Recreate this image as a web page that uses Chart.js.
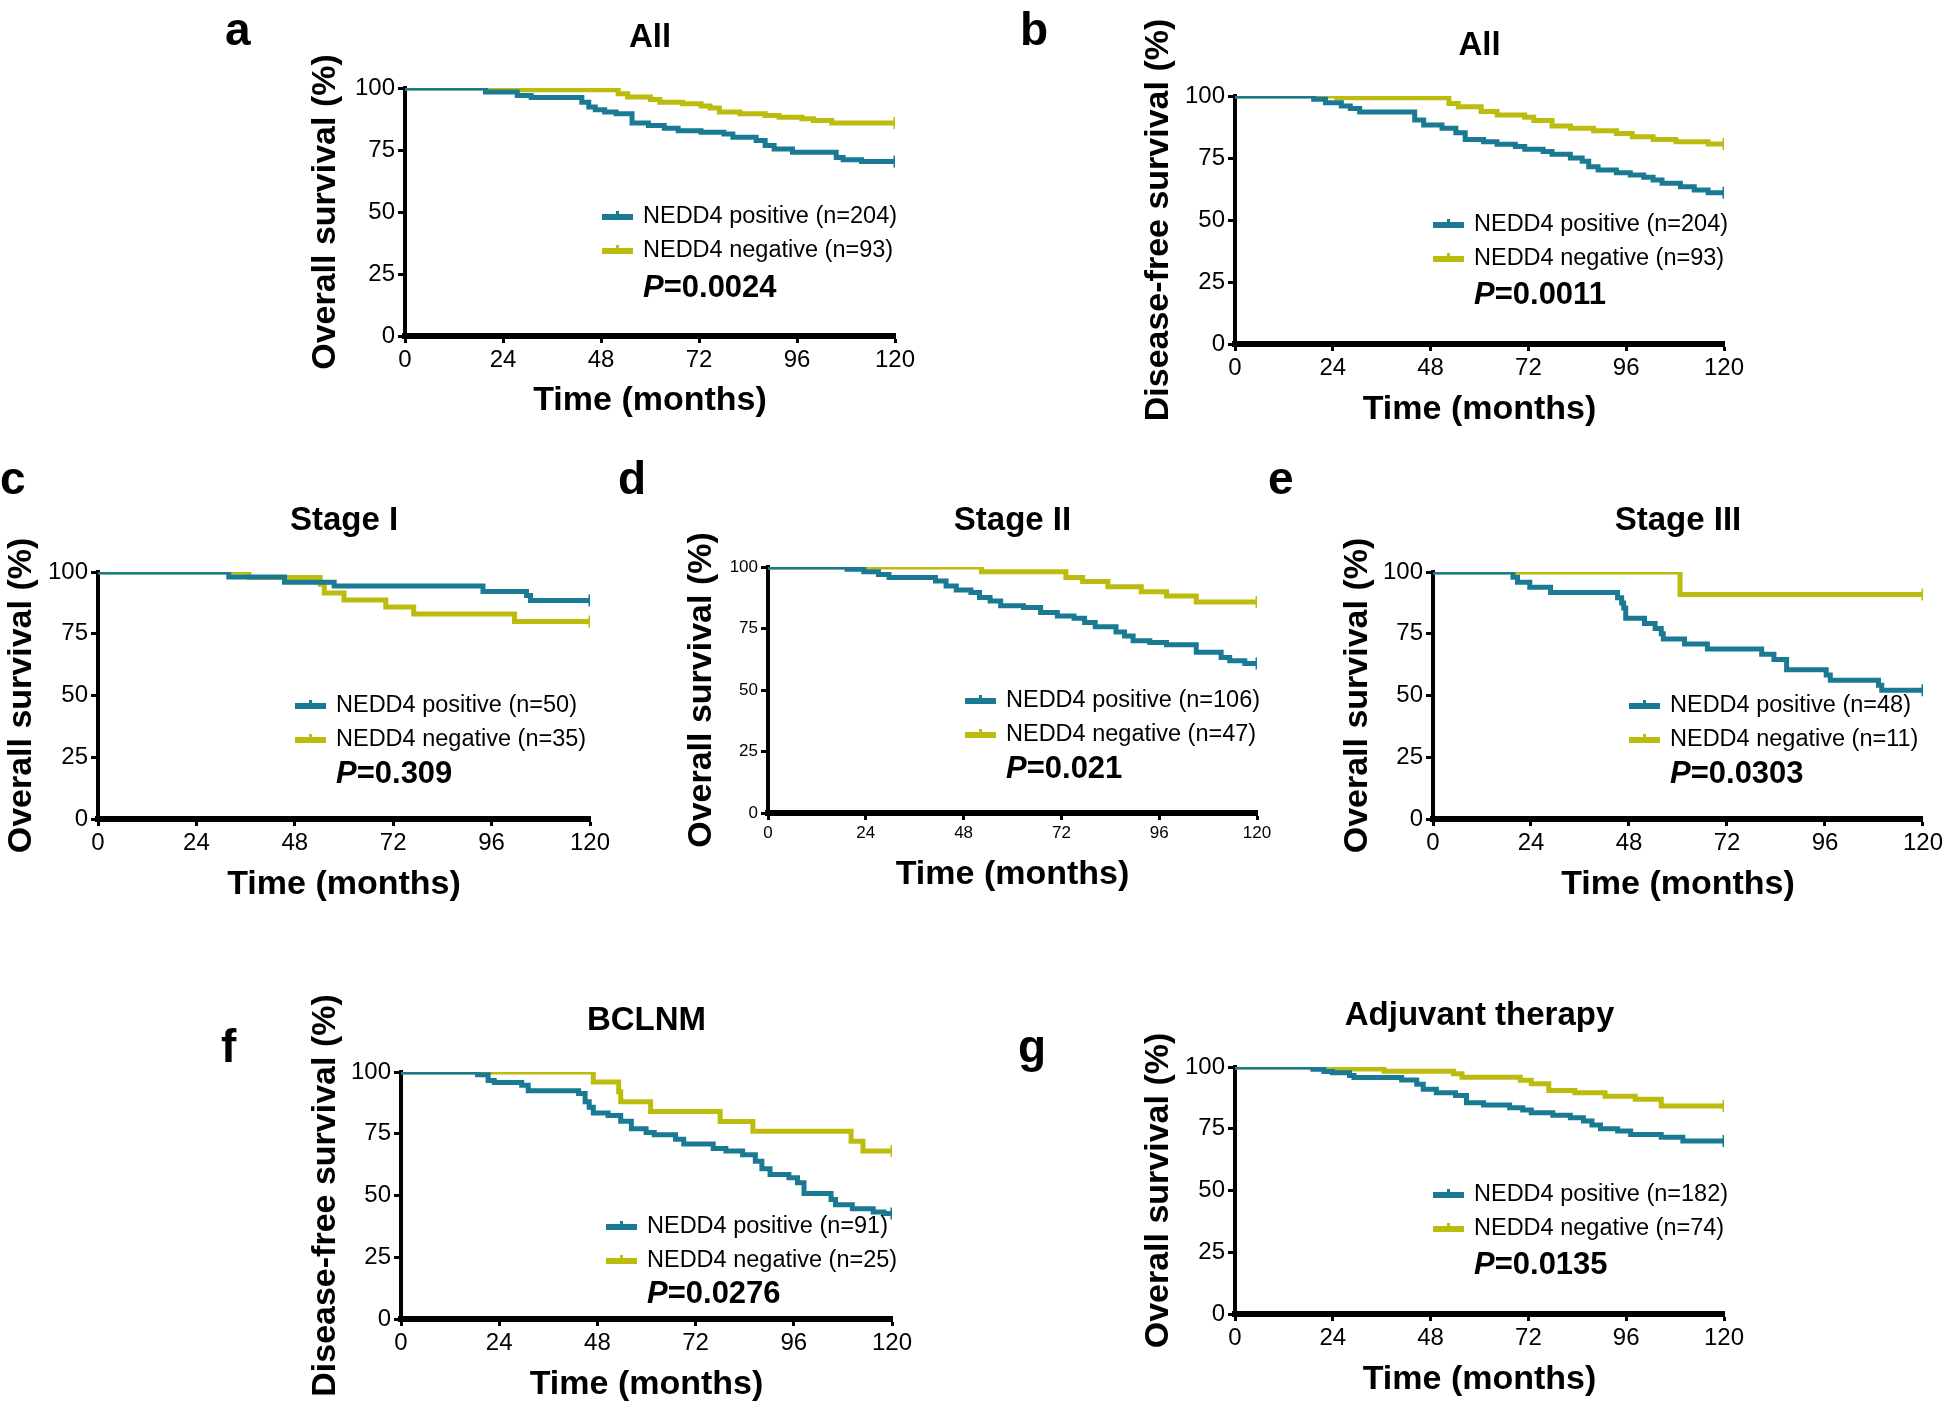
<!DOCTYPE html>
<html>
<head>
<meta charset="utf-8">
<script src="https://cdn.jsdelivr.net/npm/chart.js@4.4.1/dist/chart.umd.min.js"></script>
<style>
    html, body { margin: 0; padding: 0; background: #fff; }
    #fig { position: relative; width: 1946px; height: 1407px; }
    #fig canvas { position: absolute; left: 0; top: 0; }
</style>
</head>
<body>
<div id="fig"></div>
<script>
// Kaplan-Meier curves: time (months) and survival (%)
const aPosT = [0, 19.7, 27.5, 30.9, 43.3, 45, 46.6, 48.9, 51.7, 55.6, 59.6, 63.5, 66.9, 72.5, 78.1, 80.3, 86, 88.2, 90.4, 94.9, 105.6, 107.3, 111.8, 120];
const aPosS = [100, 98.4, 97.0, 96.2, 94.3, 92.3, 91.2, 90.3, 89.6, 85.9, 84.9, 83.8, 82.8, 82.2, 81.5, 80.1, 78.8, 76.8, 75.4, 74.1, 72.0, 71.1, 70.4, 70.4];
const aNegT = [0, 27, 52.2, 54.5, 60.1, 62.4, 68, 72.5, 74.7, 77, 82, 88.2, 91.6, 97.2, 100, 104.5, 120];
const aNegS = [100, 99.3, 97.7, 96.4, 95.4, 94.3, 93.6, 92.7, 91.9, 90.3, 89.6, 88.9, 88.2, 87.6, 86.9, 85.9, 85.9];

const bPosT = [0, 19.3, 22.2, 26.1, 28.3, 30.6, 44.1, 46.3, 50.8, 54.2, 56.5, 61, 64.3, 68.8, 71.1, 75.6, 77.8, 82.3, 85.2, 86.8, 89.1, 93.6, 97, 100.3, 102.6, 104.8, 109.3, 112.7, 116.1, 120];
const bPosS = [100, 98.7, 97.3, 96, 95, 93.5, 90.3, 88.3, 87, 85.2, 82.5, 81.6, 80.5, 79.6, 78.5, 77.6, 76.5, 75, 73.7, 71.5, 70.2, 69.1, 68.1, 67.2, 66.1, 64.8, 63.4, 62.1, 61, 61];
const bNegT = [0, 25, 52.5, 54.8, 60.4, 64.3, 71.1, 73.3, 77.8, 82.3, 88, 93.6, 97.5, 102.6, 108.2, 116.1, 120];
const bNegS = [100, 99.3, 97, 95.7, 93.7, 92.3, 91.4, 90.1, 87.9, 87, 86, 84.9, 83.6, 82.5, 81.6, 80.6, 80.6];

const cPosT = [0, 31.9, 45.5, 57.6, 93.9, 104.5, 105.5, 120];
const cPosS = [100, 98, 95.9, 94.3, 92.1, 90.5, 88.5, 88.5];
const cNegT = [0, 36.8, 54.2, 55.2, 60, 70.2, 77, 101.6, 120];
const cNegS = [100, 97.8, 95, 91.5, 88.7, 85.8, 83, 80, 80];

const dPosT = [0, 19.4, 23.5, 27.1, 29.7, 41.1, 43.7, 46.2, 49.8, 51.9, 54.5, 57.1, 62.7, 66.9, 71, 75.1, 77.7, 80.3, 85.4, 87.5, 89.6, 93.7, 97.8, 105.1, 111.2, 113.3, 117, 120];
const dPosS = [100, 99.1, 98.1, 97, 95.7, 94.3, 92.3, 90.7, 89.6, 87.6, 86.2, 84.2, 83.5, 81.5, 80.1, 79.2, 77.4, 75.7, 73.6, 72, 70, 69.3, 68.4, 65.3, 63.2, 61.9, 60.8, 60.8];
const dNegT = [0, 52.4, 73.1, 77.2, 83.4, 91.6, 97.8, 105.1, 120];
const dNegS = [100, 98.1, 95.7, 94.1, 92, 89.9, 88.2, 85.8, 85.8];

const ePosT = [0, 19.6, 20.7, 23.7, 28.8, 45.2, 46.2, 46.7, 47.2, 51.8, 54.4, 55.9, 56.4, 61.6, 67.2, 80.5, 83.5, 86.6, 96.3, 97.3, 109.1, 109.9, 120];
const ePosS = [100, 97.9, 95.8, 93.8, 91.7, 89.6, 87.5, 85.4, 81.3, 79.2, 77.1, 75, 72.9, 70.8, 68.8, 66.7, 64.6, 60.4, 58.3, 56.2, 54.2, 52.1, 52.1];
const eNegT = [0, 60.5, 120];
const eNegS = [100, 90.9, 90.9];

const fPosT = [0, 18.7, 21.3, 22.8, 29.5, 31.1, 43.4, 45, 46, 47, 50.6, 53.7, 56.3, 59.9, 61.9, 67.1, 69.1, 76.3, 79.4, 83.5, 86.6, 88.2, 90.2, 94.8, 96.9, 98.5, 105.1, 106.2, 110.3, 115.4, 118, 120];
const fPosS = [100, 98.9, 96.6, 95.7, 94.6, 92.4, 91.3, 88, 85.7, 83.4, 82.4, 80.1, 77, 75.5, 74.6, 72.8, 70.8, 69, 68, 66.5, 63.9, 60.8, 58.5, 57.2, 55.2, 50.8, 48.4, 46.3, 44.6, 43.3, 42.7, 42.7];
const fNegT = [0, 47, 53.2, 53.7, 61, 78, 86, 110, 112.9, 120];
const fNegS = [100, 96, 92, 88, 84, 80, 76, 72, 68, 68];

const gPosT = [0, 19.1, 21.8, 23.9, 28.1, 29.2, 40.9, 44.6, 46.2, 49.4, 54.1, 56.8, 61, 67.4, 70.6, 72.7, 78, 82.3, 85.5, 87.6, 89.7, 93.9, 97.1, 104.6, 109.9, 120];
const gPosS = [100, 99.1, 98.2, 97.7, 96.6, 95.7, 94.7, 93, 91, 89.6, 88.5, 85.5, 84.6, 83.5, 82.6, 81.5, 80.5, 79.5, 78.1, 76.5, 75, 74.1, 72.7, 71.6, 70, 70];
const gNegT = [0, 21.8, 36.6, 53.6, 55.7, 70, 72.7, 77, 83.4, 90.8, 98.2, 104.6, 120];
const gNegS = [100, 99.2, 98.3, 97.3, 95.9, 94.6, 93.2, 90.5, 89.6, 88.2, 86.9, 84.2, 84.2];

// Panel texts
const panelLetters = ['a', 'b', 'c', 'd', 'e', 'f', 'g'];
const panelTitles = ['All', 'All', 'Stage I', 'Stage II', 'Stage III', 'BCLNM', 'Adjuvant therapy'];
const yTitles = ['Overall survival (%)', 'Disease-free survival (%)', 'Overall survival (%)', 'Overall survival (%)',
    'Overall survival (%)', 'Disease-free survival (%)', 'Overall survival (%)'];
const nPositive = [204, 204, 50, 106, 48, 91, 182];
const nNegative = [93, 93, 35, 47, 11, 25, 74];
const pValues = ['0.0024', '0.0011', '0.309', '0.021', '0.0303', '0.0276', '0.0135'];
const xTicks = [0, 24, 48, 72, 96, 120];
const yTicks = [0, 25, 50, 75, 100];

const curves = [
    [aPosT, aPosS, aNegT, aNegS], [bPosT, bPosS, bNegT, bNegS], [cPosT, cPosS, cNegT, cNegS],
    [dPosT, dPosS, dNegT, dNegS], [ePosT, ePosS, eNegT, eNegS], [fPosT, fPosS, fNegT, fNegS],
    [gPosT, gPosS, gNegT, gNegS]
];

const TEAL = '#1a7a94';
const OLIVE = '#bcbc0e';
const FONT = "'Liberation Sans', Arial, sans-serif";
const W = 1946, H = 1407;

// page layout in px: plot area, axis title centres, text anchors
const layouts = [
    { left: 405, right: 895, top: 88, bottom: 336, yTitleX: 326, xTitleY: 401, tick: 24, letterX: 225, letterY: 45, titleY: 47, legX: 602, legY: 217, pY: 288 },
    { left: 1235, right: 1724, top: 96, bottom: 344, yTitleX: 1159, xTitleY: 410, tick: 24, letterX: 1020, letterY: 45, titleY: 55, legX: 1433, legY: 225, pY: 295 },
    { left: 98, right: 590, top: 572, bottom: 819, yTitleX: 22, xTitleY: 885, tick: 24, letterX: 0, letterY: 494, titleY: 530, legX: 295, legY: 706, pY: 774 },
    { left: 768, right: 1257, top: 567, bottom: 813, yTitleX: 702, xTitleY: 875, tick: 17, letterX: 618, letterY: 494, titleY: 530, legX: 965, legY: 701, pY: 769 },
    { left: 1433, right: 1924, top: 572, bottom: 819, yTitleX: 1358, xTitleY: 885, tick: 24, letterX: 1268, letterY: 494, titleY: 530, legX: 1629, legY: 706, pY: 774 },
    { left: 401, right: 892, top: 1072, bottom: 1319, yTitleX: 326, xTitleY: 1385, tick: 24, letterX: 221, letterY: 1062, titleY: 1030, legX: 606, legY: 1227, pY: 1294 },
    { left: 1235, right: 1724, top: 1067, bottom: 1314, yTitleX: 1159, xTitleY: 1380, tick: 24, letterX: 1018, letterY: 1062, titleY: 1025, legX: 1433, legY: 1195, pY: 1265 }
];

const panelText = {
    id: 'panelText',
    afterDraw(chart, args, opts) {
        const ctx = chart.ctx;
        const L = opts.layout;
        const i = opts.index;
        const area = chart.chartArea;
        ctx.save();
        ctx.fillStyle = '#000';
        ctx.textBaseline = 'alphabetic';
        ctx.textAlign = 'left';
        ctx.font = `bold 46px ${FONT}`;
        ctx.fillText(panelLetters[i], L.letterX, L.letterY);

        ctx.textAlign = 'center';
        ctx.font = `bold 33px ${FONT}`;
        ctx.fillText(panelTitles[i], (area.left + area.right) / 2, L.titleY);

        // legend
        ctx.textAlign = 'left';
        ctx.textBaseline = 'middle';
        const rows = [
            [TEAL, `NEDD4 positive (n=${nPositive[i]})`, L.legY],
            [OLIVE, `NEDD4 negative (n=${nNegative[i]})`, L.legY + 34]
        ];
        rows.forEach(([color, label, y]) => {
            ctx.strokeStyle = color;
            ctx.lineWidth = 6;
            ctx.beginPath();
            ctx.moveTo(L.legX, y);
            ctx.lineTo(L.legX + 31, y);
            ctx.stroke();
            ctx.lineWidth = 3;
            ctx.beginPath();
            ctx.moveTo(L.legX + 15.5, y - 6);
            ctx.lineTo(L.legX + 15.5, y);
            ctx.stroke();
            ctx.fillStyle = '#000';
            ctx.font = `23.5px ${FONT}`;
            ctx.fillText(label, L.legX + 41, y);
        });

        ctx.font = `italic bold 31px ${FONT}`;
        ctx.fillText('P', L.legX + 41, L.pY);
        const pw = ctx.measureText('P').width;
        ctx.font = `bold 31px ${FONT}`;
        ctx.fillText('=' + pValues[i], L.legX + 41 + pw, L.pY);
        ctx.restore();
    }
};

function toPoints(t, s) {
    return t.map((v, k) => ({ x: v, y: s[k] }));
}

function curveDataset(label, t, s, color) {
    return {
        label: label,
        data: toPoints(t, s),
        borderColor: color,
        borderWidth: 5,
        stepped: true,
        fill: false,
        pointStyle: 'line',
        rotation: 90,
        pointBorderColor: color,
        pointBorderWidth: 3,
        pointRadius: ctx => ctx.dataIndex === t.length - 1 ? 6 : 0
    };
}

const fig = document.getElementById('fig');

layouts.forEach((L, i) => {
    const canvas = document.createElement('canvas');
    canvas.width = W;
    canvas.height = H;
    fig.appendChild(canvas);

    const yTitleSize = 34, xTitleSize = 34;
    const yScaleLeft = L.yTitleX - 0.6 * yTitleSize;
    const xScaleBottom = L.xTitleY + 0.6 * xTitleSize;
    const [pt, ps, nt, ns] = curves[i];

    new Chart(canvas, {
        type: 'line',
        data: {
            datasets: [
                curveDataset('NEDD4 positive', pt, ps, TEAL),
                curveDataset('NEDD4 negative', nt, ns, OLIVE)
            ]
        },
        options: {
            responsive: false,
            animation: false,
            events: [],
            layout: {
                padding: { left: yScaleLeft, top: L.top, right: W - L.right, bottom: H - xScaleBottom }
            },
            plugins: {
                legend: { display: false },
                tooltip: { enabled: false },
                panelText: { layout: L, index: i }
            },
            scales: {
                x: {
                    type: 'linear',
                    min: xTicks[0],
                    max: xTicks[xTicks.length - 1],
                    afterBuildTicks: s => { s.ticks = xTicks.map(v => ({ value: v })); },
                    ticks: { color: '#000', font: { family: FONT, size: L.tick }, padding: 3, maxRotation: 0, autoSkip: false },
                    border: { color: '#000', width: 6 },
                    grid: { drawOnChartArea: false, tickLength: 7, tickWidth: 3, tickColor: '#000' },
                    title: {
                        display: true, text: 'Time (months)', color: '#000', padding: 0,
                        font: { family: FONT, size: xTitleSize, weight: 'bold' }
                    },
                    afterFit: s => { s.height = xScaleBottom - L.bottom; }
                },
                y: {
                    type: 'linear',
                    min: yTicks[0],
                    max: yTicks[yTicks.length - 1],
                    afterBuildTicks: s => { s.ticks = yTicks.map(v => ({ value: v })); },
                    ticks: { color: '#000', font: { family: FONT, size: L.tick }, padding: 3 },
                    border: { color: '#000', width: 4 },
                    grid: { drawOnChartArea: false, tickLength: 7, tickWidth: 3, tickColor: '#000' },
                    title: {
                        display: true, text: yTitles[i], color: '#000', padding: 0,
                        font: { family: FONT, size: yTitleSize, weight: 'bold' }
                    },
                    afterFit: s => { s.width = L.left - yScaleLeft; }
                }
            }
        },
        plugins: [panelText]
    });
});
</script>
</body>
</html>
